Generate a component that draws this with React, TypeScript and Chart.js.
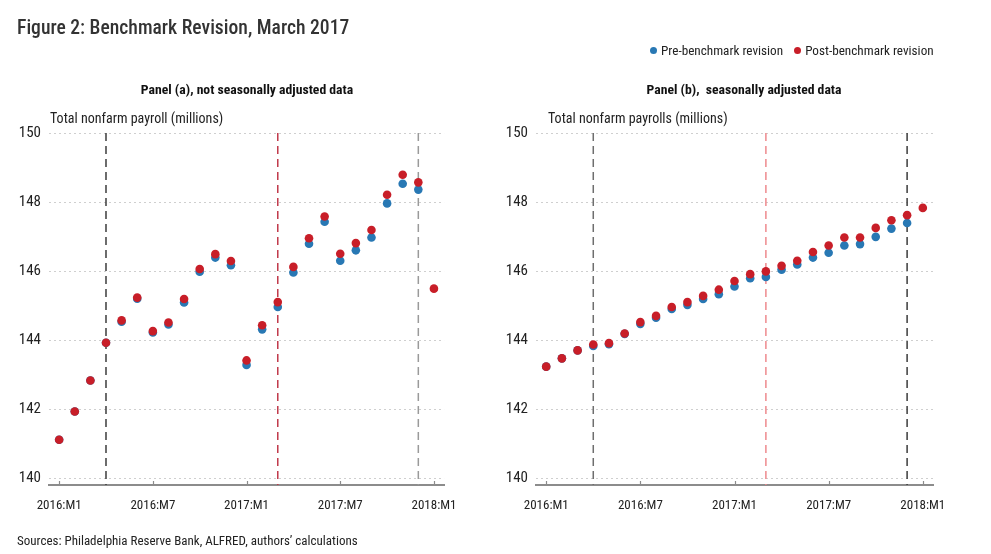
import React, { useEffect, useRef } from "react";
import { Chart, registerables } from "chart.js";
Chart.register(...registerables);

const FONT = '"Liberation Sans Narrow", "Roboto Condensed", "DejaVu Sans Condensed", "Arial Narrow", sans-serif';

const months = [
  "2016:M1", "2016:M2", "2016:M3", "2016:M4", "2016:M5", "2016:M6", "2016:M7", "2016:M8", "2016:M9", "2016:M10", "2016:M11", "2016:M12",
  "2017:M1", "2017:M2", "2017:M3", "2017:M4", "2017:M5", "2017:M6", "2017:M7", "2017:M8", "2017:M9", "2017:M10", "2017:M11", "2017:M12",
  "2018:M1",
];
const xTickLabels = ["2016:M1", "2016:M7", "2017:M1", "2017:M7", "2018:M1"];
const yTicks = [140, 142, 144, 146, 148, 150];
const markerMonths = ["2016:M4", "2017:M3", "2017:M12"];

const panelAPre = [141.11, 141.93, 142.83, 143.92, 144.53, 145.2, 144.22, 144.45, 145.09, 145.98, 146.39, 146.17, 143.28, 144.31, 144.96, 145.96, 146.79, 147.43, 146.3, 146.6, 146.97, 147.96, 148.53, 148.36, null];
const panelAPost = [141.11, 141.93, 142.83, 143.92, 144.57, 145.23, 144.26, 144.51, 145.19, 146.06, 146.49, 146.29, 143.41, 144.43, 145.1, 146.12, 146.95, 147.58, 146.5, 146.81, 147.19, 148.21, 148.79, 148.57, 145.49];
const panelBPre = [143.23, 143.47, 143.7, 143.83, 143.88, 144.18, 144.47, 144.65, 144.9, 145.02, 145.19, 145.33, 145.55, 145.79, 145.83, 146.04, 146.19, 146.39, 146.53, 146.74, 146.78, 146.99, 147.23, 147.39, null];
const panelBPost = [143.23, 143.47, 143.7, 143.87, 143.91, 144.19, 144.52, 144.7, 144.96, 145.1, 145.28, 145.46, 145.71, 145.91, 145.99, 146.15, 146.3, 146.55, 146.74, 146.97, 146.97, 147.25, 147.47, 147.62, 147.83];

const BLUE = "#2878b4";
const RED = "#c81e28";

function toPoints(values: (number | null)[]) {
  const pts: { x: number; y: number }[] = [];
  values.forEach((v, i) => {
    if (v !== null) pts.push({ x: i, y: v });
  });
  return pts;
}

type PanelProps = {
  pre: (number | null)[];
  post: (number | null)[];
  markerColors: string[];
  left: number;
  width: number;
  axisWidth: number;
  padRight: number;
};

function Panel({ pre, post, markerColors, left, width, axisWidth, padRight }: PanelProps) {
  const ref = useRef<HTMLCanvasElement | null>(null);
  useEffect(() => {
    if (!ref.current) return;
    const markerPlugin = {
      id: "markers",
      beforeDatasetsDraw(chart: any) {
        const { ctx, chartArea, scales } = chart;
        ctx.save();
        ctx.lineWidth = 1.5;
        ctx.setLineDash([8, 5]);
        markerMonths.forEach((m, i) => {
          const x = scales.x.getPixelForValue(months.indexOf(m));
          ctx.strokeStyle = markerColors[i];
          ctx.beginPath();
          ctx.moveTo(x, chartArea.top);
          ctx.lineTo(x, chartArea.bottom);
          ctx.stroke();
        });
        ctx.restore();
      },
      afterDraw(chart: any) {
        const { ctx, chartArea, scales } = chart;
        ctx.save();
        ctx.strokeStyle = "#8c8c8c";
        ctx.lineWidth = 1.2;
        xTickLabels.forEach((lab) => {
          const x = Math.round(scales.x.getPixelForValue(months.indexOf(lab))) + 0.5;
          ctx.beginPath();
          ctx.moveTo(x, chartArea.bottom);
          ctx.lineTo(x, chartArea.bottom - 4);
          ctx.stroke();
        });
        ctx.restore();
      },
    };
    const chart = new Chart(ref.current, {
      type: "scatter",
      data: {
        datasets: [
          {
            label: "Pre-benchmark revision",
            data: toPoints(pre),
            backgroundColor: BLUE,
            borderWidth: 0,
            pointRadius: 4.3,
            order: 1,
          },
          {
            label: "Post-benchmark revision",
            data: toPoints(post),
            backgroundColor: RED,
            borderWidth: 0,
            pointRadius: 4.3,
            order: 0,
          },
        ],
      },
      options: {
        animation: false,
        responsive: false,
        maintainAspectRatio: false,
        layout: { padding: { top: 133, bottom: 39, left: 0, right: padRight } },
        plugins: { legend: { display: false }, tooltip: { enabled: false } },
        scales: {
          x: {
            type: "linear",
            min: -0.65,
            max: 24.65,
            afterBuildTicks: (scale: any) => {
              scale.ticks = xTickLabels.map((l) => ({ value: months.indexOf(l) }));
            },
            afterFit: (scale: any) => {
              scale.height = 30;
            },
            grid: { display: false, drawTicks: false },
            border: { display: true, color: "#8c8c8c", width: 2 },
            ticks: {
              padding: 13,
              color: "#222",
              font: { family: FONT, size: 13 },
              callback: (v: any) => months[v as number],
              maxRotation: 0,
            },
          },
          y: {
            min: 139.8,
            max: 150,
            afterBuildTicks: (scale: any) => {
              scale.ticks = yTicks.map((v) => ({ value: v }));
            },
            afterFit: (scale: any) => {
              scale.width = axisWidth;
            },
            grid: { color: "#cfcfcf", lineWidth: 1, drawTicks: false },
            border: { display: false, dash: [2, 3] },
            ticks: {
              padding: 8,
              color: "#222",
              font: { family: FONT, size: 15 },
            },
          },
        },
      },
      plugins: [markerPlugin],
    } as any);
    return () => chart.destroy();
  }, []);
  return (
    <canvas
      ref={ref}
      width={width}
      height={554}
      style={{ position: "absolute", left, top: 0, width, height: 554 }}
    />
  );
}

const textBase: React.CSSProperties = {
  position: "absolute",
  fontFamily: FONT,
  whiteSpace: "nowrap",
  lineHeight: 1,
};

export default function App() {
  return (
    <div style={{ position: "fixed", left: 0, top: 0, width: 991, height: 554, background: "#fff", overflow: "hidden" }}>
      <Panel pre={panelAPre} post={panelAPost} markerColors={["#3c3c3c", "#c0394a", "#9a9a9a"]} left={0} width={470} axisWidth={49} padRight={23} />
      <Panel pre={panelBPre} post={panelBPost} markerColors={["#6e6e6e", "#ee8a8e", "#3c3c3c"]} left={470} width={521} axisWidth={66} padRight={58} />
      <div style={{ ...textBase, left: 17, top: 18, fontSize: 19.6, fontWeight: 500, color: "#333" }}>Figure 2: Benchmark Revision, March 2017</div>
      <div style={{ ...textBase, left: 650, top: 44, fontSize: 13.2, color: "#222", display: "flex", alignItems: "center" }}>
        <span style={{ display: "inline-block", width: 7, height: 7, borderRadius: 4, background: BLUE, marginRight: 4 }} />
        <span>Pre-benchmark revision</span>
        <span style={{ display: "inline-block", width: 7, height: 7, borderRadius: 4, background: RED, marginLeft: 11, marginRight: 4 }} />
        <span>Post-benchmark revision</span>
      </div>
      <div style={{ ...textBase, left: 247, top: 83, transform: "translateX(-50%)", fontSize: 13.7, fontWeight: "bold", color: "#111" }}>
        Panel (a), not seasonally adjusted data
      </div>
      <div style={{ ...textBase, left: 744, top: 83, transform: "translateX(-50%)", fontSize: 13.7, fontWeight: "bold", color: "#111" }}>
        Panel (b),&nbsp; seasonally adjusted data
      </div>
      <div style={{ ...textBase, left: 50, top: 111, fontSize: 14, color: "#222" }}>Total nonfarm payroll (millions)</div>
      <div style={{ ...textBase, left: 548, top: 111, fontSize: 14, color: "#222" }}>Total nonfarm payrolls (millions)</div>
      <div style={{ ...textBase, left: 17, top: 534, fontSize: 13, color: "#222" }}>Sources: Philadelphia Reserve Bank, ALFRED, authors’ calculations</div>
    </div>
  );
}
